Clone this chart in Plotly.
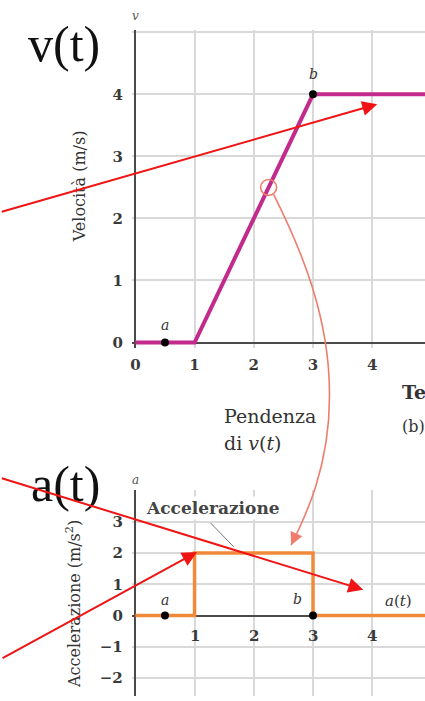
import plotly.graph_objects as go

W, H = 425, 701

# velocity profile v(t)
t_vel = [0, 1, 3, 5]
v_vel = [0, 0, 4, 4]
# acceleration profile a(t)
t_acc = [0, 1, 1, 3, 3, 5]
a_acc = [0, 0, 2, 2, 0, 0]
# marked instants a and b
pt_names = ["a", "b"]
t_pts = [0.5, 3]
v_pts = [0, 4]
a_pts = [0, 0]
# sample point on the ramp where the slope is taken
t_slope, v_slope = 2.25, 2.5
# where the slope arrow lands on a(t)
t_land, a_land = 2.63, 2.25

x_ticks = [0, 1, 2, 3, 4]
v_ticks = [0, 1, 2, 3, 4, 5]
v_ticktext = ["0", "1", "2", "3", "4", ""]
a_ticks = [-2, -1, 0, 1, 2, 3, 4]
a_ticktext = ["\u22122", "\u22121", "0", "1", "2", "3", ""]

# pixel geometry of the two panels
X0_PX, X_SCALE = 134, 59.5
X_RANGE = [-0.06, (W - X0_PX) / X_SCALE]
TOP_V0_PX, TOP_SCALE = 345, 62.5
TOP_RANGE = [-0.08, 5.04]
BOT_A0_PX, BOT_SCALE = 620, 31.5
BOT_RANGE = [-(H - BOT_A0_PX) / BOT_SCALE, 4.03]

x_dom = [(X0_PX + X_RANGE[0] * X_SCALE) / W, 1]
top_dom = [1 - (TOP_V0_PX - TOP_RANGE[0] * TOP_SCALE) / H,
           1 - (TOP_V0_PX - TOP_RANGE[1] * TOP_SCALE) / H]
bot_dom = [0, 1 - (BOT_A0_PX - BOT_RANGE[1] * BOT_SCALE) / H]

SERIF = "DejaVu Serif"
TIMES = "Liberation Serif"
TXT = "#333333"
GRID = "#d9d9d9"
AXIS = "#4a4a4a"
MAGENTA = "#c22b8c"
ORANGE = "#f08a3a"
SALMON = "#ee7d6e"
RED = "#f01414"


def px(xp, yp):
    return xp / W, 1 - yp / H


def top_px(t, v):
    return X0_PX + t * X_SCALE, TOP_V0_PX - v * TOP_SCALE


def bot_px(t, a):
    return X0_PX + t * X_SCALE, BOT_A0_PX - a * BOT_SCALE


def paper_text(text, xp, yp, size, xanchor="center", yanchor="middle",
               color=TXT, family=SERIF, **kw):
    x, y = px(xp, yp)
    return dict(text=text, x=x, y=y, xref="paper", yref="paper",
                xanchor=xanchor, yanchor=yanchor, showarrow=False,
                font=dict(family=family, size=size, color=color), **kw)


fig = go.Figure()

fig.add_trace(go.Scatter(x=t_vel, y=v_vel, mode="lines",
                         line=dict(color=MAGENTA, width=4),
                         xaxis="x", yaxis="y", hoverinfo="skip"))
fig.add_trace(go.Scatter(x=t_pts, y=v_pts, mode="markers",
                         marker=dict(color="black", size=8),
                         xaxis="x", yaxis="y", hoverinfo="skip"))
fig.add_trace(go.Scatter(x=t_acc, y=a_acc, mode="lines",
                         line=dict(color=ORANGE, width=3.5),
                         xaxis="x2", yaxis="y2", hoverinfo="skip"))
fig.add_trace(go.Scatter(x=t_pts, y=a_pts, mode="markers",
                         marker=dict(color="black", size=8),
                         xaxis="x2", yaxis="y2", hoverinfo="skip"))

TICKFONT = dict(family=SERIF, size=15, color="#3a3a3a", weight="bold")
axis_common = dict(showgrid=True, gridcolor=GRID, gridwidth=2,
                   zeroline=True, zerolinecolor=AXIS, zerolinewidth=2,
                   showline=False, ticks="outside",
                   tickcolor="rgba(0,0,0,0)", tickfont=TICKFONT)

fig.update_layout(
    width=W, height=H,
    margin=dict(l=0, r=0, t=0, b=0),
    paper_bgcolor="white", plot_bgcolor="white",
    showlegend=False,
    xaxis=dict(domain=x_dom, range=X_RANGE, anchor="y",
               tickvals=x_ticks, ticklen=3, **axis_common),
    yaxis=dict(domain=top_dom, range=TOP_RANGE, anchor="x",
               tickvals=v_ticks, ticktext=v_ticktext, ticklen=5,
               **axis_common),
    xaxis2=dict(domain=x_dom, range=X_RANGE, anchor="y2",
                tickvals=x_ticks, showticklabels=False, **axis_common),
    yaxis2=dict(domain=bot_dom, range=BOT_RANGE, anchor="x2",
                tickvals=a_ticks, ticktext=a_ticktext, ticklen=5,
                **axis_common),
)

ann = []

# big panel titles
ann.append(paper_text("v(t)", 62, 44, 50, color="#111", family=TIMES))
ann.append(paper_text("a(t)", 64, 487, 50, color="#111", family=TIMES))

# axis symbols above the vertical axes
ann.append(dict(text="<i>v</i>", x=0, y=TOP_RANGE[1], xref="x", yref="y",
                yshift=14, showarrow=False,
                font=dict(family=SERIF, size=12, color="#555")))
ann.append(dict(text="<i>a</i>", x=0, y=BOT_RANGE[1], xref="x2", yref="y2",
                yshift=10, showarrow=False,
                font=dict(family=SERIF, size=12, color="#555")))

# vertical axis titles
ann.append(paper_text("Velocità (m/s)", 78, 188, 16, textangle=-90))
ann.append(paper_text("Accelerazione (m/s<sup>2</sup>)", 72, 522, 16,
                      yanchor="top", textangle=-90))

# time axis title and panel tag (run past the right edge)
ann.append(paper_text("<b>Tempo (s)</b>", 400, 395, 19, xanchor="left"))
ann.append(paper_text("(b)", 400, 430, 16, xanchor="left"))

# tick labels on the a = 0 axis
for t in x_ticks[1:]:
    ann.append(dict(text=str(t), x=t, y=0, xref="x2", yref="y2",
                    yshift=-20, showarrow=False, font=TICKFONT))

# point labels
ann.append(dict(text="<i>a</i>", x=t_pts[0], y=v_pts[0], xref="x", yref="y",
                yshift=18, showarrow=False,
                font=dict(family=SERIF, size=14, color=TXT)))
ann.append(dict(text="<i>b</i>", x=t_pts[1], y=v_pts[1], xref="x", yref="y",
                yshift=20, showarrow=False,
                font=dict(family=SERIF, size=14, color=TXT)))
ann.append(dict(text="<i>a</i>", x=t_pts[0], y=a_pts[0], xref="x2",
                yref="y2", yshift=16, showarrow=False,
                font=dict(family=SERIF, size=14, color=TXT)))
ann.append(dict(text="<i>b</i>", x=t_pts[1], y=a_pts[1], xref="x2",
                yref="y2", yshift=17, xshift=-16, showarrow=False,
                font=dict(family=SERIF, size=14, color=TXT)))

# curve label a(t)
ann.append(paper_text("<i>a</i>(<i>t</i>)", 383, 605, 15, xanchor="left"))

# boxed label in the acceleration panel
ann.append(dict(text="<b>Accelerazione</b>", x=0.14, y=3.43, xref="x2",
                yref="y2", xanchor="left", yanchor="middle",
                showarrow=False, bgcolor="white", borderpad=1,
                font=dict(family=SERIF, size=17, color="#444")))

# slope caption
ann.append(paper_text("Pendenza", 221, 419, 19, xanchor="left"))
ann.append(paper_text("di <i>v</i>(<i>t</i>)", 221, 446, 19, xanchor="left"))

# red pointer arrows (head position, tail position in pixels)
red_arrows = [((377, 105), (0, 213)),
              ((363, 594), (0, 482)),
              ((196, 556), (0, 663))]
for (hx, hy), (sx, sy) in red_arrows:
    x_, y_ = px(hx, hy)
    ann.append(dict(text="", x=x_, y=y_, xref="paper", yref="paper",
                    ax=sx - hx, ay=sy - hy, axref="pixel", ayref="pixel",
                    showarrow=True, arrowhead=2, arrowsize=1.5,
                    arrowwidth=2, arrowcolor=RED, standoff=0))

# slope arrow: curved path from the sample point down to a(t)
s_x, s_y = top_px(t_slope, v_slope)
s_x, s_y = s_x + 5, s_y + 7
e_x, e_y = bot_px(t_land, a_land)
ctrl = [(300, 250), (330, 320), (329, 400), (329, 470), (305, 520)]
pts = [(s_x, s_y)] + ctrl + [(e_x, e_y)]
pp = [px(x, y) for x, y in pts]
path = "M {:.5f},{:.5f} C {:.5f},{:.5f} {:.5f},{:.5f} {:.5f},{:.5f} " \
       "C {:.5f},{:.5f} {:.5f},{:.5f} {:.5f},{:.5f}".format(
           *[c for p in pp for c in p])

shapes = [
    dict(type="path", path=path, xref="paper", yref="paper",
         line=dict(color=SALMON, width=1.6)),
    dict(type="circle", xref="x", yref="y",
         x0=t_slope - 8 / X_SCALE, x1=t_slope + 8 / X_SCALE,
         y0=v_slope - 8 / TOP_SCALE, y1=v_slope + 8 / TOP_SCALE,
         line=dict(color=SALMON, width=1.6)),
    # leader from the boxed label to the a(t) plateau
    dict(type="line", xref="x2", yref="y2", x0=1.27, y0=2.96, x1=1.66,
         y1=2.2, line=dict(color="#777", width=1)),
]

hx, hy = px(e_x, e_y)
ann.append(dict(text="", x=hx, y=hy, xref="paper", yref="paper",
                ax=6, ay=-13, axref="pixel", ayref="pixel",
                showarrow=True, arrowhead=2, arrowsize=1.6, arrowwidth=1.6,
                arrowcolor=SALMON, standoff=0))

fig.update_layout(annotations=ann, shapes=shapes)

fig.write_html("out.html")
